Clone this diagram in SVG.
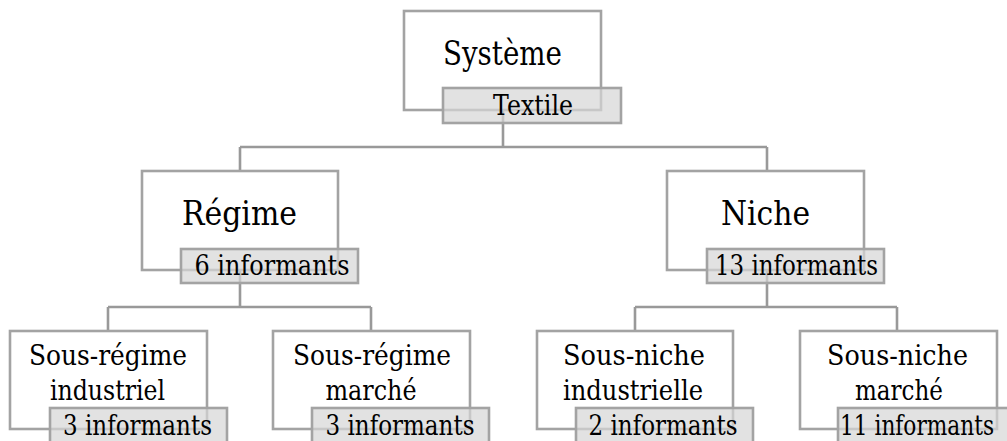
<svg xmlns="http://www.w3.org/2000/svg" width="1007" height="441" viewBox="0 0 1007 441">
<style>
.box{fill:#fff;stroke:#a3a3a3;stroke-width:2.6}
.lab{fill:#d6d6d6;fill-opacity:0.7;stroke:#a3a3a3;stroke-width:2.6}
.con{fill:none;stroke:#999;stroke-width:2.6}
.t1{font-size:33px}
.t2{font-size:28px}
.tl{font-size:27px}
</style>
<rect width="1007" height="441" fill="#fff"/>
<g id="connectors">
<path class="con" d="M503 110 V147 M240 147 H767 M240 147 V171 M767 147 V171"/>
<path class="con" d="M240 270 V307 M108 307 H371 M108 307 V331 M371 307 V331"/>
<path class="con" d="M767 270 V307 M635 307 H897 M635 307 V331 M897 307 V331"/>
</g>
<g font-family="DejaVu Serif, serif" text-anchor="middle" fill="#000">
<g id="systeme">
<rect class="box" x="404" y="11" width="197" height="99"/>
<text class="t1" x="502.5" y="65" textLength="119" lengthAdjust="spacingAndGlyphs">Système</text>
<rect class="lab" x="443" y="88" width="178" height="35"/>
<text class="tl" x="533" y="115" textLength="80" lengthAdjust="spacingAndGlyphs">Textile</text>
</g>
<g id="regime">
<rect class="box" x="142" y="171" width="196" height="99"/>
<text class="t1" x="239.5" y="225" textLength="115" lengthAdjust="spacingAndGlyphs">Régime</text>
<rect class="lab" x="181" y="249" width="177" height="34"/>
<text class="tl" x="272" y="275" textLength="155" lengthAdjust="spacingAndGlyphs">6 informants</text>
</g>
<g id="niche">
<rect class="box" x="667" y="171" width="197" height="99"/>
<text class="t1" x="765.5" y="225" textLength="89" lengthAdjust="spacingAndGlyphs">Niche</text>
<rect class="lab" x="707" y="249" width="177" height="34"/>
<text class="tl" x="796.5" y="275" textLength="163" lengthAdjust="spacingAndGlyphs">13 informants</text>
</g>
<g id="sous-regime-industriel">
<rect class="box" x="10" y="331" width="197" height="98"/>
<text class="t2" x="108" y="365" textLength="158" lengthAdjust="spacingAndGlyphs">Sous-régime</text>
<text class="t2" x="107.5" y="400" textLength="115" lengthAdjust="spacingAndGlyphs">industriel</text>
<rect class="lab" x="50" y="408" width="177" height="40"/>
<text class="tl" x="137.5" y="435" textLength="149" lengthAdjust="spacingAndGlyphs">3 informants</text>
</g>
<g id="sous-regime-marche">
<rect class="box" x="273" y="331" width="197" height="98"/>
<text class="t2" x="372" y="365" textLength="158" lengthAdjust="spacingAndGlyphs">Sous-régime</text>
<text class="t2" x="371" y="400" textLength="91" lengthAdjust="spacingAndGlyphs">marché</text>
<rect class="lab" x="312" y="408" width="177" height="40"/>
<text class="tl" x="400" y="435" textLength="149" lengthAdjust="spacingAndGlyphs">3 informants</text>
</g>
<g id="sous-niche-industrielle">
<rect class="box" x="537" y="331" width="196" height="98"/>
<text class="t2" x="634" y="365" textLength="142" lengthAdjust="spacingAndGlyphs">Sous-niche</text>
<text class="t2" x="633" y="400" textLength="140" lengthAdjust="spacingAndGlyphs">industrielle</text>
<rect class="lab" x="576" y="408" width="177" height="40"/>
<text class="tl" x="663" y="435" textLength="149" lengthAdjust="spacingAndGlyphs">2 informants</text>
</g>
<g id="sous-niche-marche">
<rect class="box" x="800" y="331" width="197" height="98"/>
<text class="t2" x="897.5" y="365" textLength="141" lengthAdjust="spacingAndGlyphs">Sous-niche</text>
<text class="t2" x="899" y="400" textLength="88" lengthAdjust="spacingAndGlyphs">marché</text>
<rect class="lab" x="838" y="408" width="177" height="40"/>
<text class="tl" x="917" y="435" textLength="154" lengthAdjust="spacingAndGlyphs">11 informants</text>
</g>
</g>
</svg>
